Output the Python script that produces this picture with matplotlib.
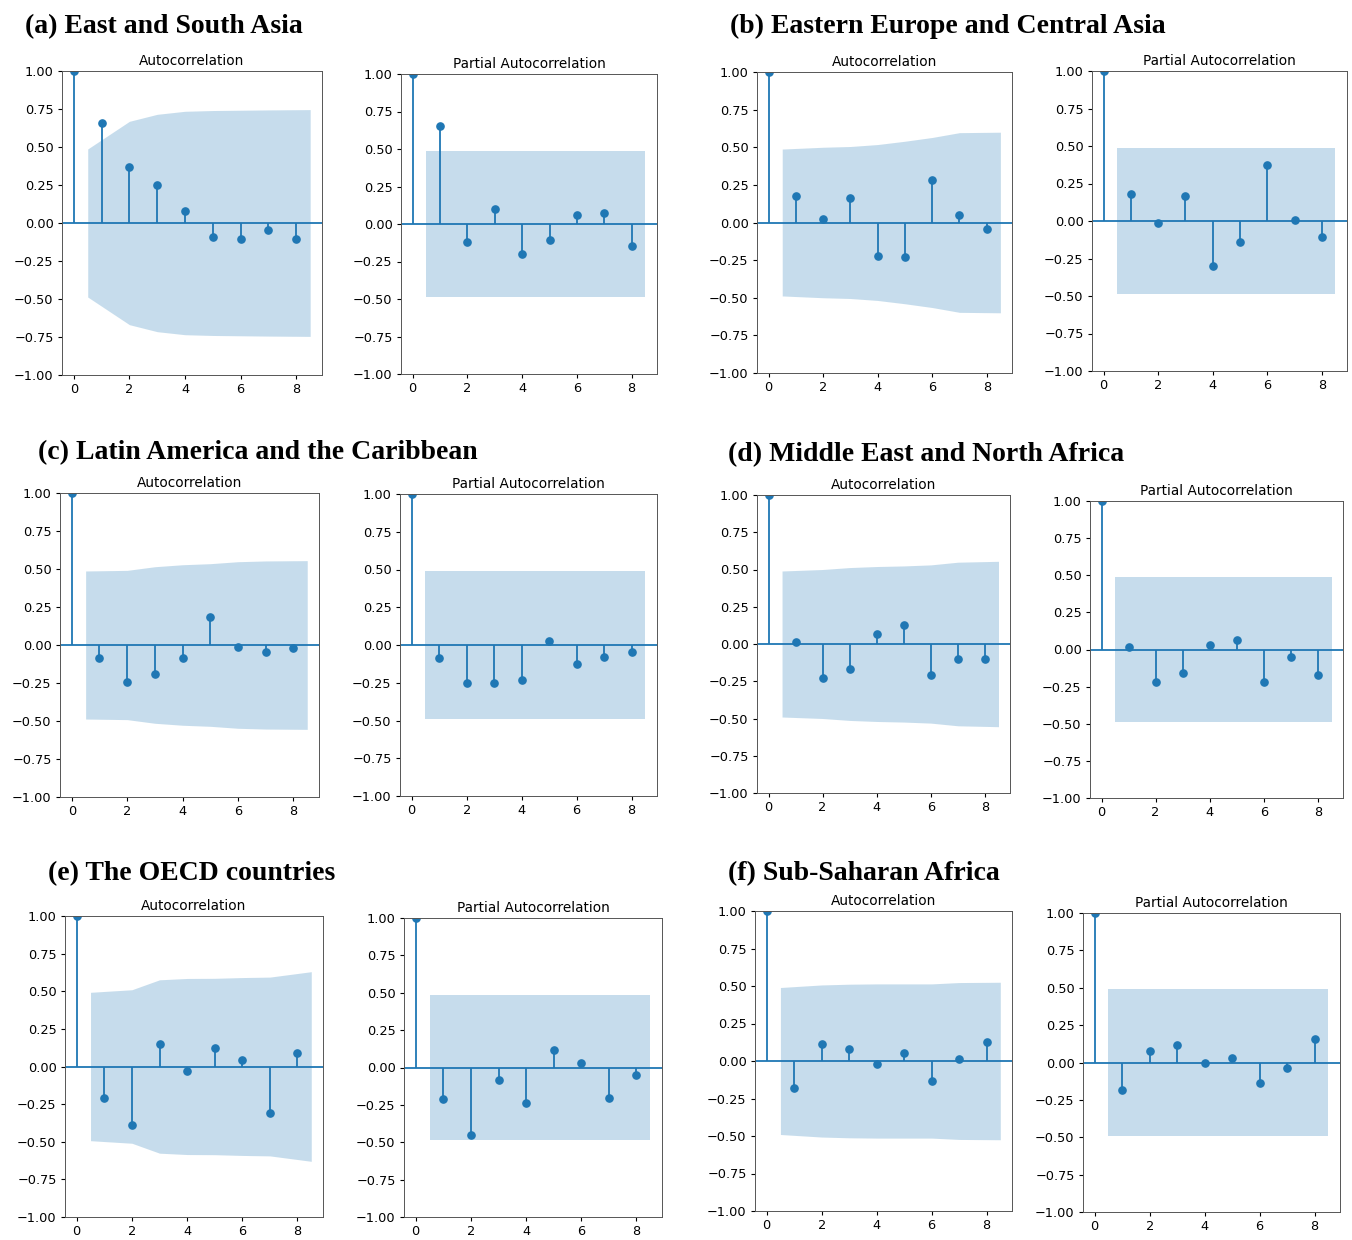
import numpy as np
import matplotlib
matplotlib.use("Agg")
import matplotlib.pyplot as plt

# ---- values (lag 0..8) ----
regions = ["(a) East and South Asia", "(b) Eastern Europe and Central Asia",
           "(c) Latin America and the Caribbean", "(d) Middle East and North Africa",
           "(e) The OECD countries", "(f) Sub-Saharan Africa"]

acf_a = [1.0, 0.658, 0.368, 0.252, 0.077, -0.090, -0.105, -0.048, -0.105]
pacf_a = [1.0, 0.656, -0.120, 0.102, -0.198, -0.104, 0.060, 0.073, -0.149]
acf_b = [1.0, 0.179, 0.020, 0.164, -0.221, -0.230, 0.283, 0.051, -0.044]
pacf_b = [1.0, 0.180, -0.013, 0.167, -0.298, -0.140, 0.376, 0.007, -0.107]
acf_c = [1.0, -0.086, -0.241, -0.193, -0.086, 0.186, -0.015, -0.048, -0.022]
pacf_c = [1.0, -0.086, -0.250, -0.254, -0.230, 0.027, -0.124, -0.080, -0.044]
acf_d = [1.0, 0.013, -0.226, -0.166, 0.069, 0.125, -0.206, -0.100, -0.100]
pacf_d = [1.0, 0.020, -0.222, -0.161, 0.027, 0.063, -0.222, -0.049, -0.175]
acf_e = [1.0, -0.206, -0.388, 0.149, -0.033, 0.120, 0.042, -0.307, 0.090]
pacf_e = [1.0, -0.208, -0.450, -0.081, -0.239, 0.118, 0.033, -0.204, -0.053]
acf_f = [1.0, -0.182, 0.111, 0.082, -0.022, 0.053, -0.131, 0.016, 0.128]
pacf_f = [1.0, -0.182, 0.080, 0.116, 0.000, 0.029, -0.136, -0.040, 0.156]

# half width of the 95% band at lags 1..8
band_acf_a = [0.487, 0.669, 0.715, 0.735, 0.740, 0.742, 0.744, 0.746]
band_acf_b = [0.488, 0.500, 0.505, 0.518, 0.540, 0.565, 0.597, 0.600]
band_acf_c = [0.487, 0.491, 0.515, 0.528, 0.535, 0.548, 0.553, 0.555]
band_acf_d = [0.490, 0.500, 0.513, 0.520, 0.524, 0.531, 0.549, 0.555]
band_acf_e = [0.493, 0.510, 0.576, 0.585, 0.586, 0.591, 0.594, 0.630]
band_acf_f = [0.490, 0.507, 0.512, 0.514, 0.514, 0.514, 0.523, 0.525]
band_pacf = [0.489, 0.489, 0.487, 0.488, 0.485, 0.489]

acfs = [acf_a, acf_b, acf_c, acf_d, acf_e, acf_f]
pacfs = [pacf_a, pacf_b, pacf_c, pacf_d, pacf_e, pacf_f]
acf_bands = [band_acf_a, band_acf_b, band_acf_c, band_acf_d, band_acf_e, band_acf_f]

W, H = 1352, 1240
plt.rcParams['xtick.major.size'] = 3.1
plt.rcParams['ytick.major.size'] = 3.1
plt.rcParams['xtick.major.pad'] = 2.8
plt.rcParams['ytick.major.pad'] = 3.0
plt.rcParams['xtick.labelsize'] = 9.3
plt.rcParams['ytick.labelsize'] = 9.3
plt.rcParams['axes.linewidth'] = 0.7
plt.rcParams['axes.edgecolor'] = '#555555'

fig = plt.figure(figsize=(W / 100, H / 100), dpi=100)

# axes boxes in pixels (x0, y0, x1, y1): acf then pacf
boxes = [
    ((62, 71, 322, 375), (401, 74, 657, 374)),
    ((757, 72, 1012, 373), (1092, 71, 1347, 371)),
    ((60, 493, 319, 797), (400, 494, 657, 796)),
    ((757, 495, 1010, 793), (1090, 501, 1343, 798)),
    ((65, 916, 323, 1217), (404, 918, 662, 1217)),
    ((755, 911, 1012, 1211), (1083, 913, 1340, 1212)),
]
label_pos = [(25, 33), (730, 33), (38, 459), (728, 461), (48, 880), (728, 880)]


def px_axes(box):
    x0, y0, x1, y1 = box
    return fig.add_axes([x0 / W, 1 - y1 / H, (x1 - x0) / W, (y1 - y0) / H])


def draw_corr(ax, vals, band, title):
    vals = np.array(vals)
    lags = np.arange(len(vals))
    ax.vlines(lags, 0, vals, color='C0', lw=1.3)
    ax.plot(lags, vals, 'o', color='C0', ms=5.2)
    ax.axhline(0, color='C0', lw=1.3)
    bx = lags[1:].astype(float)
    bx[0] -= 0.5
    bx[-1] += 0.5
    band = np.array(band)
    ax.fill_between(bx, -band, band, color='C0', alpha=0.25, lw=0)
    ax.set_ylim(-1, 1)
    ax.set_xticks([0, 2, 4, 6, 8])
    ax.set_yticks(np.linspace(-1, 1, 9))
    ax.set_title(title, fontsize=9.8, pad=4.5)


for i in range(6):
    b_acf, b_pacf = boxes[i]
    ax1 = px_axes(b_acf)
    draw_corr(ax1, acfs[i], acf_bands[i], 'Autocorrelation')
    ax2 = px_axes(b_pacf)
    draw_corr(ax2, pacfs[i], [band_pacf[i]] * 8, 'Partial Autocorrelation')
    lx, ly = label_pos[i]
    fig.text(lx / W, 1 - ly / H, regions[i], fontsize=20, fontweight='bold',
             family='Liberation Serif', va='baseline', ha='left')

fig.savefig('out.png', dpi=100)
